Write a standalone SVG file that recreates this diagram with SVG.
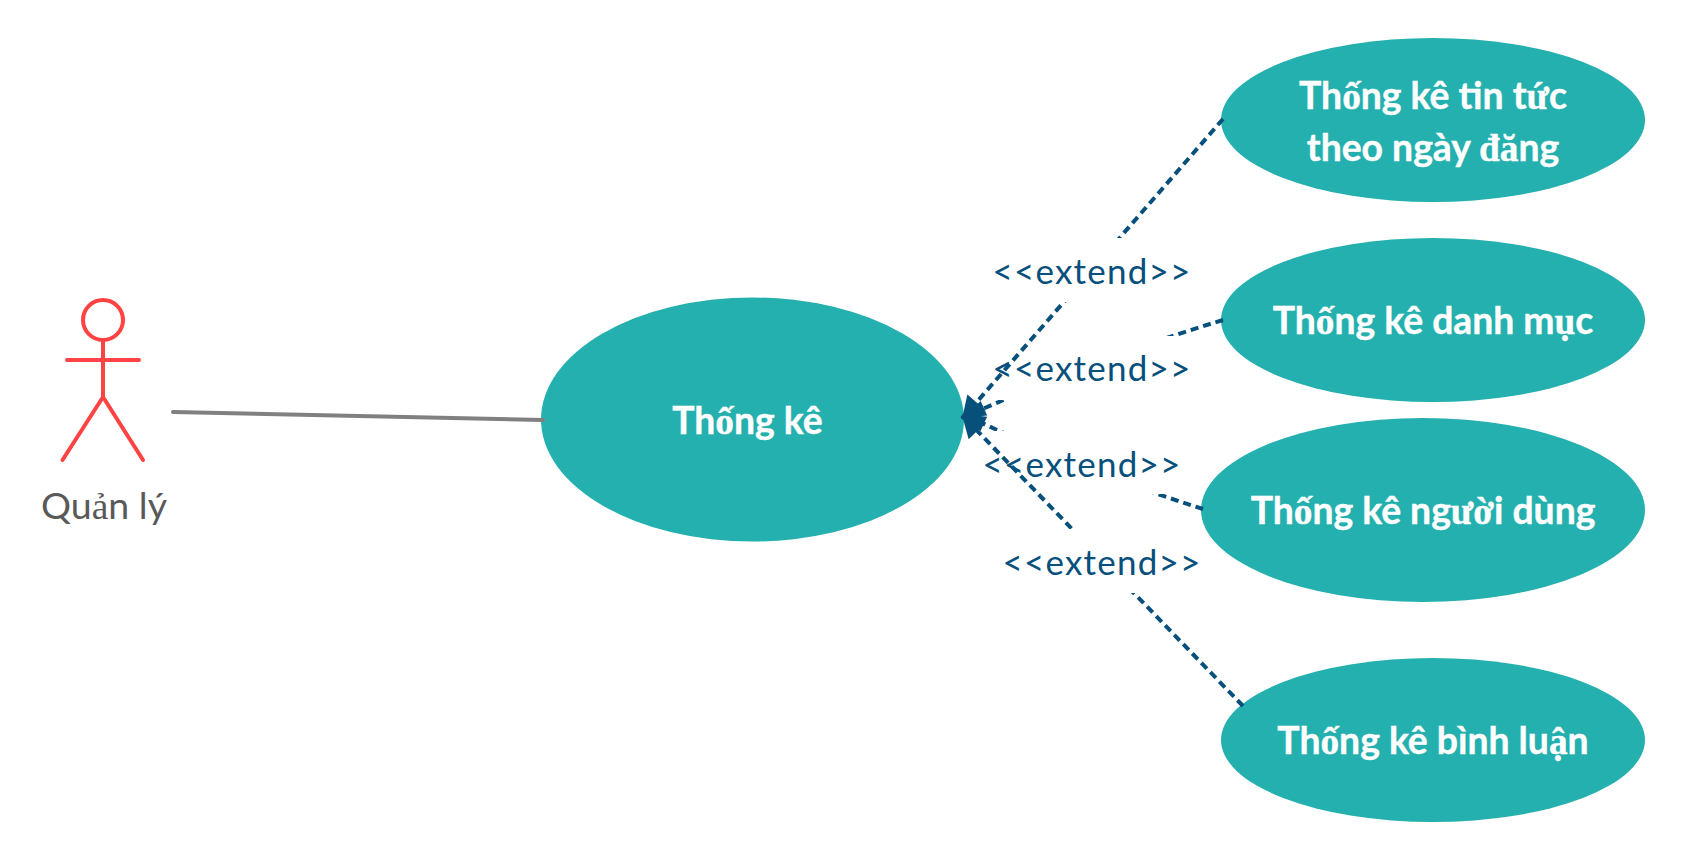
<svg xmlns="http://www.w3.org/2000/svg" width="1683" height="860" viewBox="0 0 1683 860">
<style>
.uc{fill:#24b0ae}
.uct{font-family:Lato,"Noto Sans",sans-serif;font-size:37.300px;font-weight:700;fill:#fff;stroke:#fff;stroke-width:.4px;text-anchor:middle}
.f{font-family:"Liberation Serif",serif}
.act{fill:none;stroke:#ff4343;stroke-width:4;stroke-linecap:round}
.actt{font-family:Lato,"Noto Sans",sans-serif;font-size:37.500px;fill:#595959;text-anchor:middle}
.ext{fill:none;stroke:#07507c;stroke-width:4;stroke-dasharray:8 5}
.big{marker-end:url(#tip)}
.small{marker-end:url(#tip2)}
.lbg{fill:#fff}
.lbl{font-family:Lato,"Noto Sans",sans-serif;font-size:35px;fill:#07507c;text-anchor:middle;letter-spacing:1.200px}
</style>
<defs>
<marker id="tip" markerUnits="userSpaceOnUse" markerWidth="30" markerHeight="30" refX="25" refY="15" orient="auto"><path d="M25 15L3 3V27Z" fill="#07507c"/></marker>
<marker id="tip2" markerUnits="userSpaceOnUse" markerWidth="30" markerHeight="30" refX="25" refY="15" orient="auto"><path d="M25 15L1 7V23Z" fill="#07507c"/></marker>
</defs>
<rect width="1683" height="860" fill="#fff"/>
<g id="actor"><ellipse class="act" cx="103" cy="320" rx="20" ry="20"/><path class="act" d="M103 342V397M67 360H139M103 397L62.500 460M103 397L143 460"/><text class="actt" x="104" y="519">Qu<tspan class="f">ả</tspan>n lý</text></g>
<g id="uc-main"><ellipse class="uc" cx="752.500" cy="419.500" rx="211.500" ry="122"/><text class="uct" x="747.500" y="434">Th<tspan class="f">ố</tspan>ng kê</text></g>
<g id="uc-1"><ellipse class="uc" cx="1433" cy="120" rx="212" ry="82"/><text class="uct" x="1433" y="108.500">Th<tspan class="f">ố</tspan>ng kê tin t<tspan class="f">ứ</tspan>c</text><text class="uct" x="1433" y="160.500">theo ngày <tspan class="f">đă</tspan>ng</text></g>
<g id="uc-2"><ellipse class="uc" cx="1433" cy="320" rx="212" ry="82"/><text class="uct" x="1433" y="334">Th<tspan class="f">ố</tspan>ng kê danh m<tspan class="f">ụ</tspan>c</text></g>
<g id="uc-3"><ellipse class="uc" cx="1423" cy="510" rx="222" ry="92"/><text class="uct" x="1423" y="524">Th<tspan class="f">ố</tspan>ng kê ng<tspan class="f">ườ</tspan>i dùng</text></g>
<g id="uc-4"><ellipse class="uc" cx="1433" cy="740" rx="212" ry="82"/><text class="uct" x="1433" y="754">Th<tspan class="f">ố</tspan>ng kê bình lu<tspan class="f">ậ</tspan>n</text></g>
<g id="connectors">
<line x1="173" y1="412" x2="543" y2="420" stroke="#808080" stroke-width="4" stroke-linecap="round"/>
<path class="ext small" d="M1223 320Q1097 358 962 418"/>
<rect class="lbg" x="995" y="336" width="194" height="64"/><text class="lbl" x="1092" y="381">&lt;&lt;extend&gt;&gt;</text>
<path class="ext small" d="M1203 509Q1089 473 962 414"/>
<rect class="lbg" x="985" y="431" width="194" height="63"/><text class="lbl" x="1082" y="477">&lt;&lt;extend&gt;&gt;</text>
<path class="ext big" d="M1223 119L962 419"/>
<rect class="lbg" x="995" y="238" width="194" height="64"/><text class="lbl" x="1092" y="283.500">&lt;&lt;extend&gt;&gt;</text>
<path class="ext big" d="M1243 706L962 415"/>
<rect class="lbg" x="1005" y="529" width="194" height="64"/><text class="lbl" x="1102" y="575">&lt;&lt;extend&gt;&gt;</text>
</g>
</svg>
